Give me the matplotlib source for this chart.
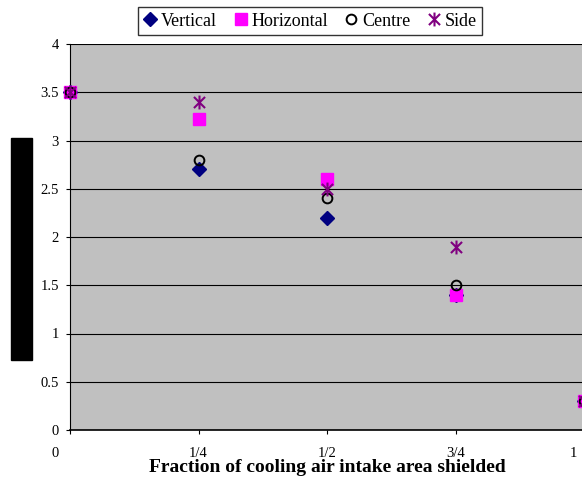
import numpy as np
import matplotlib
matplotlib.use("Agg")
import matplotlib.pyplot as plt
import matplotlib.transforms as mtransforms
from matplotlib.patches import Rectangle
from matplotlib.path import Path

# data
fraction = [0, 0.25, 0.5, 0.75, 1.0]
vertical = [3.5, 2.7, 2.2, 1.4, 0.3]
horizontal = [3.5, 3.22, 2.6, 1.4, 0.3]
centre = [3.5, 2.8, 2.4, 1.5, 0.3]
side = [3.5, 3.4, 2.5, 1.9, 0.3]

xtick_labels = ["0", "1/4", "1/2", "3/4", "1"]
ytick_vals = [0, 0.5, 1, 1.5, 2, 2.5, 3, 3.5, 4]
ytick_labels = ["0", "0.5", "1", "1.5", "2", "2.5", "3", "3.5", "4"]

plt.rcParams['font.family'] = ['Liberation Serif', 'DejaVu Serif']

# excel style star: an x with a vertical bar through it
star = Path([(0, -1), (0, 1), (-0.8, -0.8), (0.8, 0.8), (-0.8, 0.8), (0.8, -0.8)],
            [Path.MOVETO, Path.LINETO, Path.MOVETO, Path.LINETO, Path.MOVETO, Path.LINETO])

W, H = 582, 479
fig = plt.figure(figsize=(W / 100, H / 100), dpi=100)
ax = fig.add_axes([70 / W, 1 - 430 / H, (584 - 70) / W, (430 - 44) / H])
ax.set_facecolor('#C0C0C0')

ax.plot(fraction, vertical, linestyle='none', marker='D', markersize=7,
        color='#000080', label='Vertical', clip_on=False, zorder=3)
ax.plot(fraction, horizontal, linestyle='none', marker='s', markersize=8,
        color='#FF00FF', label='Horizontal', clip_on=False, zorder=3)
ax.plot(fraction, centre, linestyle='none', marker='o', markersize=7,
        markerfacecolor='none', markeredgecolor='black', markeredgewidth=1.4,
        label='Centre', clip_on=False, zorder=3)
ax.plot(fraction, side, linestyle='none', marker=star, markersize=10,
        color='#800080', markeredgewidth=1.5, label='Side', clip_on=False, zorder=3)

ax.set_xlim(0, 1)
ax.set_ylim(0, 4)
ax.set_xticks(fraction)
ax.set_xticklabels(xtick_labels)
ax.set_yticks(ytick_vals)
ax.set_yticklabels(ytick_labels)
ax.tick_params(axis='both', labelsize=10.5, direction='out', length=3, width=0.8)
ax.tick_params(axis='x', pad=9)
ax.tick_params(axis='y', pad=5)
ax.grid(axis='y', color='black', linewidth=0.8)
ax.set_axisbelow(True)
for s in ['top', 'right']:
    ax.spines[s].set_visible(False)
ax.spines['left'].set_linewidth(0.8)
ax.spines['bottom'].set_linewidth(1.2)

# shift end labels like the original
lbls = ax.get_xticklabels()
lbls[0].set_transform(lbls[0].get_transform() + mtransforms.ScaledTranslation(-0.15, 0, fig.dpi_scale_trans))
lbls[-1].set_transform(lbls[-1].get_transform() + mtransforms.ScaledTranslation(-0.11, 0, fig.dpi_scale_trans))

ax.set_xlabel("Fraction of cooling air intake area shielded", fontsize=14,
              fontweight='bold', va='center')
ax.xaxis.set_label_coords((327 - 70) / (584 - 70), -38 / 386)

leg = fig.legend(loc='center', bbox_to_anchor=(310 / W, 1 - 21 / H), ncol=4,
                 fontsize=13, frameon=True, fancybox=False, handlelength=0.8,
                 handletextpad=0.2, columnspacing=0.9, borderpad=0.3,
                 borderaxespad=0)
leg.get_frame().set_edgecolor('black')
leg.get_frame().set_linewidth(1)

# black box over the y axis title
fig.patches.append(Rectangle((11 / W, 1 - 360 / H), 21 / W, 222 / H,
                             transform=fig.transFigure, color='black'))

fig.savefig("out.png", dpi=100)
